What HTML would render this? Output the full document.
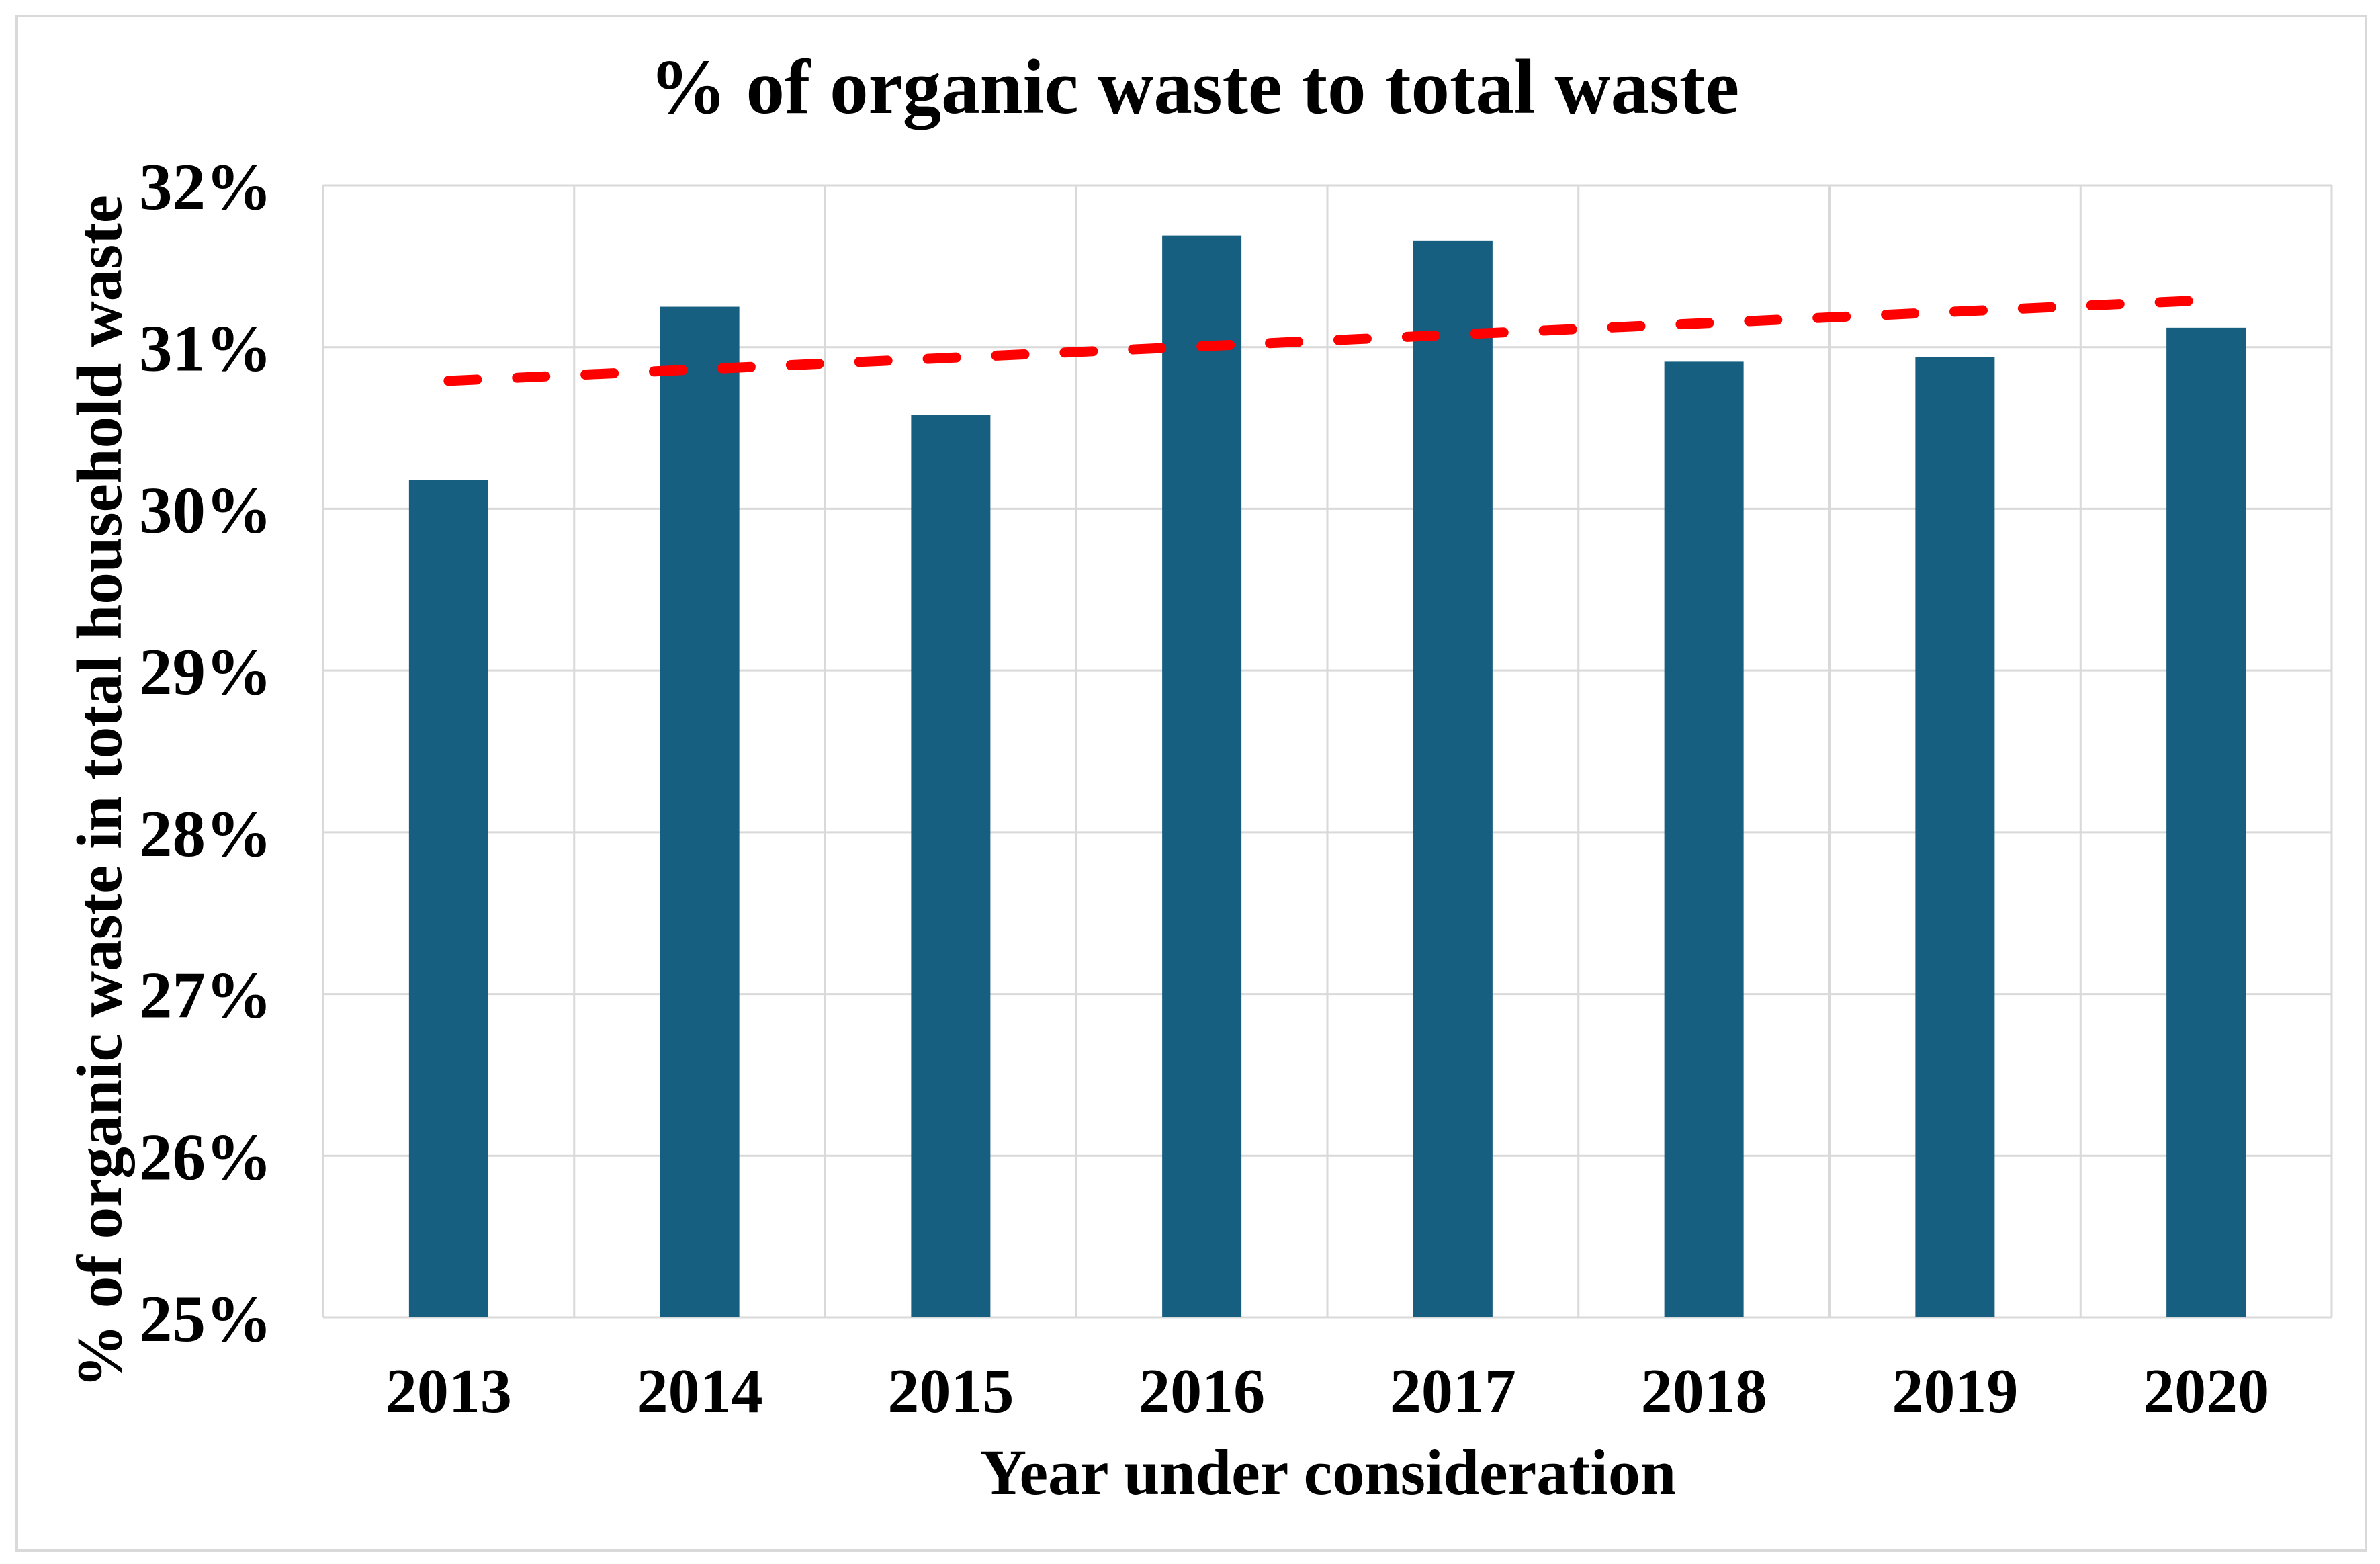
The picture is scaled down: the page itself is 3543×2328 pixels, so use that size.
<!DOCTYPE html>
<html><head><meta charset="utf-8">
<style>
html,body{margin:0;padding:0;background:#fff;}
svg{display:block;}
text{font-family:"Liberation Serif",serif;font-weight:bold;fill:#000;}
</style></head>
<body>
<svg id="chart" width="3543" height="2328" viewBox="0 0 3543 2328" xmlns="http://www.w3.org/2000/svg">
<rect x="25" y="24" width="3497" height="2284" fill="#fff" stroke="#d9d9d9" stroke-width="4"/>
<text x="1778" y="168" font-size="115" text-anchor="middle">% of organic waste to total waste</text>
<g id="grid"></g>
<g id="bars"></g>
<g id="trend"></g>
<g id="yticks"></g>
<g id="xticks"></g>
<text x="1977" y="2224" font-size="96" text-anchor="middle">Year under consideration</text>
<text transform="translate(180,1178) rotate(-90)" x="0" y="0" font-size="95" text-anchor="middle">% of organic waste in total household waste</text>
</svg>
<script>
const categories = ["2013","2014","2015","2016","2017","2018","2019","2020"];
const values = [30.18,31.25,30.58,31.69,31.66,30.91,30.94,31.12];
const yTicks = [25,26,27,28,29,30,31,32];
const yTickLabels = ["25%","26%","27%","28%","29%","30%","31%","32%"];

const NS = "http://www.w3.org/2000/svg";
const L = 481, R = 3471, T = 276, B = 1961, YMIN = 25, YMAX = 32;
const bw = (R - L) / categories.length;
function xCenter(i){ return L + bw * (i + 0.5); }
function yScale(v){ return B - (v - YMIN) / (YMAX - YMIN) * (B - T); }
function mk(tag, attrs, parent){ const e = document.createElementNS(NS, tag); for (const k in attrs) e.setAttribute(k, attrs[k]); parent.appendChild(e); return e; }

const grid = document.getElementById('grid');
yTicks.forEach((t) => {
  const ln = mk('line', {x1:L, x2:R, y1:yScale(t), y2:yScale(t), stroke:'#d9d9d9', 'stroke-width':3}, grid);
  
  
});
for (let i = 0; i <= categories.length; i++) {
  const x = L + bw * i;
  const ln = mk('line', {x1:x, x2:x, y1:T, y2:B, stroke:'#d9d9d9', 'stroke-width':3}, grid);
  
  
}

const bars = document.getElementById('bars');
const barW = 118;
values.forEach((v, i) => {
  const r = mk('rect', {x:xCenter(i) - barW/2, y:yScale(v), width:barW, height:B - yScale(v), fill:'#175f80'}, bars);
  
  
});

const n = values.length;
const mx = (n - 1) / 2;
const my = values.reduce((a, b) => a + b, 0) / n;
let sxy = 0, sxx = 0;
values.forEach((v, i) => { sxy += (i - mx) * (v - my); sxx += (i - mx) * (i - mx); });
const slope = sxy / sxx;
const icpt = my - slope * mx;
const tl = mk('line', {x1:xCenter(0), y1:yScale(icpt), x2:xCenter(n-1), y2:yScale(icpt + slope*(n-1)),
  stroke:'#ff0000', 'stroke-width':15, 'stroke-dasharray':'42 60', 'stroke-linecap':'round'}, document.getElementById('trend'));



const yt = document.getElementById('yticks');
yTicks.forEach((t, i) => {
  const tx = mk('text', {x:405, y:yScale(t) + 35, 'font-size':99, 'text-anchor':'end'}, yt);
  tx.textContent = yTickLabels[i];
  
  
});

const xt = document.getElementById('xticks');
categories.forEach((c, i) => {
  const tx = mk('text', {x:xCenter(i), y:2102, 'font-size':94, 'text-anchor':'middle'}, xt);
  tx.textContent = c;
  
  
});
</script>
</body></html>
